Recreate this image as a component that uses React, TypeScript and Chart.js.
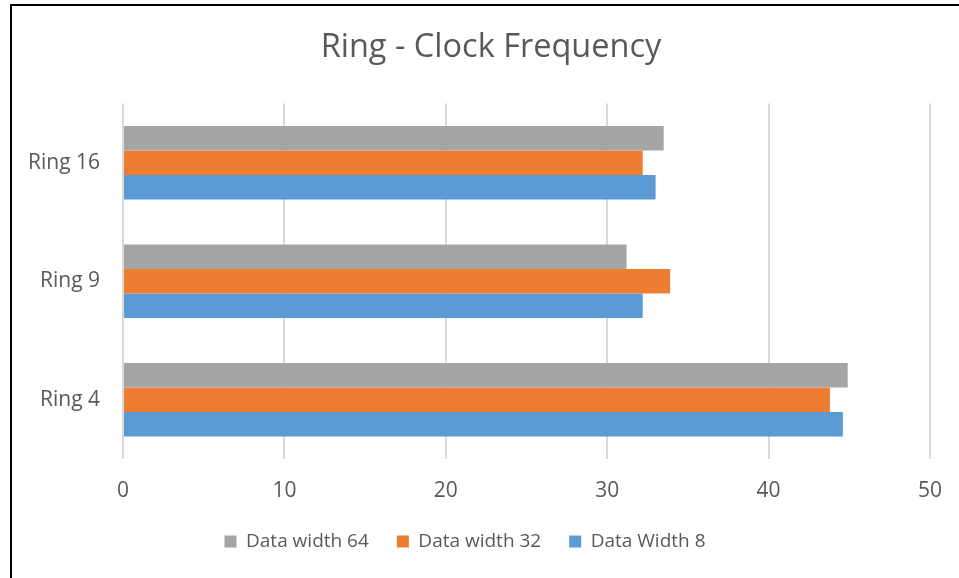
import React, { useEffect, useRef } from "react";
import { Chart, registerables } from "chart.js";

Chart.register(...registerables);

// Ring sizes, listed top to bottom
const categories = ["Ring 16", "Ring 9", "Ring 4"];

// Clock frequency per data width
const width64 = [33.5, 31.2, 44.9];
const width32 = [32.2, 33.9, 43.8];
const width8 = [33.0, 32.2, 44.6];

const seriesNames = ["Data width 64", "Data width 32", "Data Width 8"];
const xTicks = [0, 10, 20, 30, 40, 50];

const TEXT = "#595959";
const FONT = "'Open Sans', 'Noto Sans', sans-serif";

// The title sits centred on the framed panel rather than on the plot box
const shiftTitle = {
  id: "shiftTitle",
  afterLayout(chart: any) {
    const t = chart.titleBlock;
    if (t) {
      t.left += 26;
      t.right += 26;
    }
  },
};

export default function App() {
  const canvasRef = useRef<HTMLCanvasElement | null>(null);

  useEffect(() => {
    document.body.style.margin = "0";
    const canvas = canvasRef.current;
    if (!canvas) return;
    const chart = new Chart(canvas, {
      type: "bar",
      data: {
        labels: categories,
        datasets: [
          { label: seriesNames[0], data: width64, backgroundColor: "#a5a5a5" },
          { label: seriesNames[1], data: width32, backgroundColor: "#ed7d31" },
          { label: seriesNames[2], data: width8, backgroundColor: "#5b9bd5" },
        ],
      },
      plugins: [shiftTitle],
      options: {
        indexAxis: "y",
        responsive: false,
        animation: false,
        maintainAspectRatio: false,
        datasets: { bar: { barPercentage: 1, categoryPercentage: 0.62 } },
        layout: { padding: { left: 0, right: 29, top: 0, bottom: 17 } },
        plugins: {
          title: {
            display: true,
            text: "Ring - Clock Frequency",
            color: TEXT,
            font: { family: FONT, size: 32.5, weight: "normal" },
            padding: { top: 28, bottom: 36.5 },
          },
          legend: {
            position: "bottom",
            labels: {
              color: TEXT,
              font: { family: FONT, size: 19 },
              boxWidth: 12,
              boxHeight: 12,
              padding: 28,
            },
          },
          tooltip: { enabled: false },
        },
        scales: {
          x: {
            min: 0,
            max: 50,
            afterBuildTicks: (scale: any) => {
              scale.ticks = xTicks.map((v) => ({ value: v }));
            },
            afterFit: (scale: any) => {
              scale.height = 45;
              scale.paddingLeft = 0;
              scale.paddingRight = 0;
            },
            grid: { color: "#d9d9d9", lineWidth: 2, drawTicks: false },
            border: { display: false },
            ticks: {
              color: TEXT,
              font: { family: FONT, size: 21 },
              padding: 19,
            },
          },
          y: {
            grid: { display: false, drawTicks: false },
            border: { display: false },
            afterFit: (scale: any) => {
              scale.width = 123;
            },
            ticks: {
              color: TEXT,
              font: { family: FONT, size: 21 },
              padding: 23,
            },
          },
        },
      },
    });
    return () => chart.destroy();
  }, []);

  return (
    <div style={{ position: "relative", width: 959, height: 578, background: "#fff" }}>
      <canvas ref={canvasRef} width={959} height={578} style={{ display: "block" }} />
      <div
        style={{
          position: "absolute",
          left: 10,
          top: 4,
          right: 0,
          bottom: 0,
          borderLeft: "2px solid #000",
          borderTop: "2px solid #000",
          pointerEvents: "none",
        }}
      />
    </div>
  );
}
